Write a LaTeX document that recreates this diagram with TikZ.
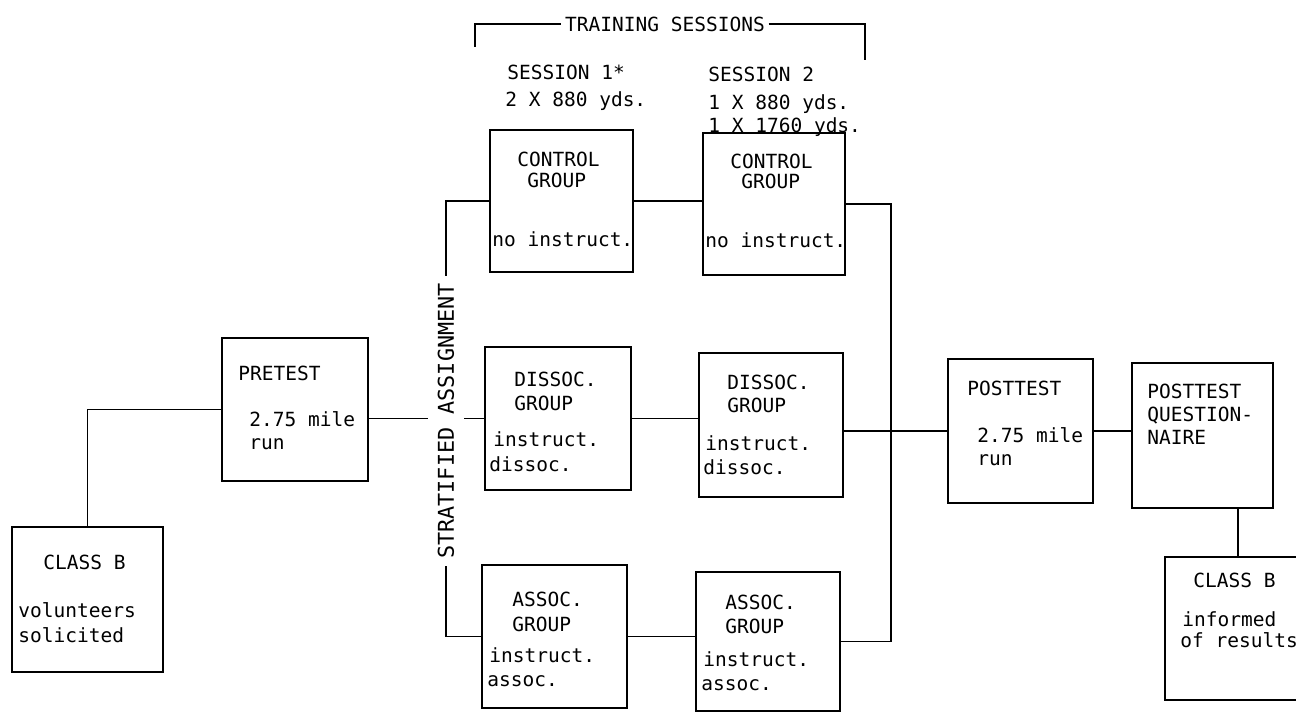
\documentclass[tikz,border=0pt]{standalone}
\usepackage{fontspec}
\newfontfamily\typew{DejaVu Sans Mono}
\usetikzlibrary{fit}

\tikzset{
  box/.style={draw, inner sep=0pt, line width=1pt},
  txt/.style={anchor=base west, inner sep=0pt, font=\typew\fontsize{11.1}{13}\selectfont},
  link/.style={line width=1pt},
}

\begin{document}
\begin{tikzpicture}[x=.02cm,y=-.02cm]
\useasboundingbox (0,0) rectangle (1296,712);
\clip (0,0) rectangle (1296,712);
% Kaesten, von links nach rechts
\node[box, fit={(12,527) (163,672)}] (clsA) {};
\node[box, fit={(222,338) (368,481)}] (pre) {};
\node[box, fit={(490,130) (633,272)}] (ctrlA) {};
\node[box, fit={(703,133) (845,275)}] (ctrlB) {};
\node[box, fit={(485,347) (631,490)}] (dsA) {};
\node[box, fit={(699,353) (843,497)}] (dsB) {};
\node[box, fit={(482,565) (627,708)}] (asA) {};
\node[box, fit={(696,572) (840,711)}] (asB) {};
\node[box, fit={(948,359) (1093,503)}] (post) {};
\node[box, fit={(1132,363) (1273,508)}] (qst) {};
\node[box, fit={(1165,557) (1311,700)}] (clsB) {};
% Verbindungen
\coordinate (split) at (446,421);
\coordinate (merge) at (891,431);
\draw[link] (clsA.north) |- (pre.west);
\draw[link] (dsA.west) -- (dsA.west -| pre.east);
\draw[link] (ctrlA.west) -| (split) |- (asA.west);
\draw[link] (ctrlA.east) -- (ctrlA.east -| ctrlB.west);
\draw[link] (dsA.east) -- (dsA.east -| dsB.west);
\draw[link] (asA.east) -- (asA.east -| asB.west);
\draw[link] (ctrlB.east) -| (merge) |- (asB.east);
\draw[link] (post.west) -- (post.west -| dsB.east);
\draw[link] (post.east) -- (post.east -| qst.west);
\draw[link] (clsB.north) -- (clsB.north |- qst.south);
\node[txt, anchor=center, rotate=90, fill=white, inner xsep=4pt, inner ysep=5.5pt,
  font=\typew\fontsize{12.4}{14}\selectfont] (strat) at (split) {STRATIFIED ASSIGNMENT};
% Klammer oben
\coordinate (brL) at (475,47);
\coordinate (brR) at (865,60);
\node[txt, anchor=center, inner xsep=2pt] (trn) at (665,24) {TRAINING SESSIONS};
\draw[link] (brL) |- (trn.west);
\draw[link] (trn.east) -| (brR);
\node[txt] (ses1a) at (507,80) {SESSION 1*};
\node[txt] (ses1b) at (505,107) {2 X 880 yds.};
\node[txt] (ses2a) at (708,82) {SESSION 2};
\node[txt] (ses2b) at (708,110) {1 X 880 yds.};
\node[txt] (ses2c) at (708,133) {1 X 1760 yds.};
% Texte in den Kaesten
\node[txt] (clsA1) at (43,570) {CLASS B};
\node[txt] (clsA2) at (18,618) {volunteers};
\node[txt] (clsA3) at (18,643) {solicited};
\node[txt] (pre1) at (238,381) {PRETEST};
\node[txt] (pre2) at (249,427) {2.75 mile};
\node[txt] (pre3) at (249,450) {run};
\node[txt] (ctrlA1) at (517,167) {CONTROL};
\node[txt] (ctrlA2) at (527,188) {GROUP};
\node[txt] (ctrlA3) at (492,247) {no instruct.};
\node[txt] (ctrlB1) at (730,169) {CONTROL};
\node[txt] (ctrlB2) at (741,189) {GROUP};
\node[txt] (ctrlB3) at (705,248) {no instruct.};
\node[txt] (dsA1) at (514,387) {DISSOC.};
\node[txt] (dsA2) at (514,411) {GROUP};
\node[txt] (dsA3) at (493,447) {instruct.};
\node[txt] (dsA4) at (489,472) {dissoc.};
\node[txt] (dsB1) at (727,390) {DISSOC.};
\node[txt] (dsB2) at (727,413) {GROUP};
\node[txt] (dsB3) at (705,451) {instruct.};
\node[txt] (dsB4) at (703,475) {dissoc.};
\node[txt] (asA1) at (512,607) {ASSOC.};
\node[txt] (asA2) at (512,632) {GROUP};
\node[txt] (asA3) at (489,663) {instruct.};
\node[txt] (asA4) at (487,687) {assoc.};
\node[txt] (asB1) at (725,610) {ASSOC.};
\node[txt] (asB2) at (725,634) {GROUP};
\node[txt] (asB3) at (703,667) {instruct.};
\node[txt] (asB4) at (701,691) {assoc.};
\node[txt] (post1) at (967,396) {POSTTEST};
\node[txt] (post2) at (977,443) {2.75 mile};
\node[txt] (post3) at (977,466) {run};
\node[txt] (qst1) at (1147,399) {POSTTEST};
\node[txt] (qst2) at (1147,422) {QUESTION-};
\node[txt] (qst3) at (1147,445) {NAIRE};
\node[txt] (clsB1) at (1193,588) {CLASS B};
\node[txt] (clsB2) at (1182,627) {informed};
\node[txt] (clsB3) at (1180,648) {of results};
\end{tikzpicture}
\end{document}
